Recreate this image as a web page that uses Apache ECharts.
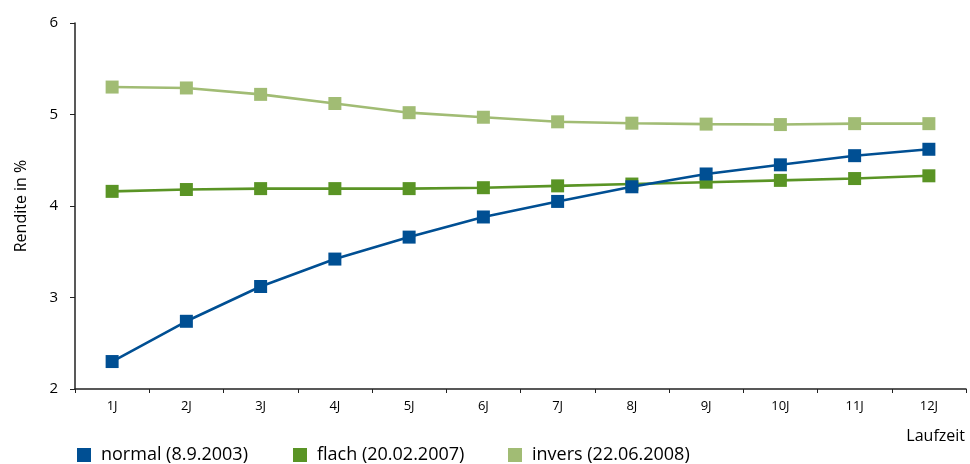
<!DOCTYPE html>
<html>
<head>
<meta charset="utf-8">
<script src="https://cdn.jsdelivr.net/npm/echarts@6/dist/echarts.min.js"></script>
<style>
  html, body { margin: 0; padding: 0; background: #fff; }
  #chart { width: 970px; height: 464px; }
</style>
</head>
<body>
<div id="chart"></div>
<script>
// Zinsstrukturkurven: Rendite nach Laufzeit
const categories = ['1J', '2J', '3J', '4J', '5J', '6J', '7J', '8J', '9J', '10J', '11J', '12J'];
const normal = [2.30, 2.74, 3.12, 3.42, 3.66, 3.88, 4.05, 4.21, 4.35, 4.45, 4.55, 4.62];
const flach  = [4.16, 4.18, 4.19, 4.19, 4.19, 4.20, 4.22, 4.24, 4.26, 4.28, 4.30, 4.33];
const invers = [5.30, 5.29, 5.22, 5.12, 5.02, 4.97, 4.92, 4.905, 4.895, 4.89, 4.90, 4.90];
const seriesNames = ['normal (8.9.2003)', 'flach (20.02.2007)', 'invers (22.06.2008)'];
const yTicks = { min: 2, max: 6, interval: 1 };

const colors = ['#004f93', '#5a9425', '#a1bc74'];
const font = 'Open Sans';
const axisColor = '#222';
const textColor = '#000';

const chart = echarts.init(document.getElementById('chart'), null, { renderer: 'canvas' });

function lineSeries(name, data, color, z) {
  return {
    name: name,
    type: 'line',
    data: data,
    z: z,
    symbol: 'rect',
    symbolSize: 13,
    showSymbol: true,
    lineStyle: { color: color, width: 2.6 },
    itemStyle: { color: color },
    emphasis: { disabled: true },
    animation: false
  };
}

function legendAt(left, name) {
  return {
    data: [name],
    left: left,
    top: 446,
    icon: 'rect',
    itemWidth: 14,
    itemHeight: 14,
    itemGap: 0,
    padding: 0,
    selectedMode: false,
    textStyle: { fontFamily: font, fontSize: 18, color: textColor, padding: [0, 0, 0, 5] }
  };
}

chart.setOption({
  backgroundColor: '#fff',
  animation: false,
  grid: { left: 75, right: 4, top: 23, bottom: 75, containLabel: false },
  legend: [
    legendAt(77, seriesNames[0]),
    legendAt(293, seriesNames[1]),
    legendAt(508, seriesNames[2])
  ],
  xAxis: {
    type: 'category',
    data: categories,
    boundaryGap: true,
    axisLine: { lineStyle: { color: axisColor, width: 1.5 } },
    axisTick: { show: true, alignWithLabel: false, length: 4, lineStyle: { color: axisColor } },
    axisLabel: { fontFamily: font, fontSize: 13, color: textColor, margin: 11 },
    splitLine: { show: false }
  },
  yAxis: {
    type: 'value',
    min: yTicks.min,
    max: yTicks.max,
    interval: yTicks.interval,
    name: 'Rendite in %',
    nameLocation: 'middle',
    nameGap: 46,
    nameRotate: 90,
    nameTextStyle: { fontFamily: font, fontSize: 16, color: textColor },
    axisLine: { show: true, lineStyle: { color: axisColor, width: 1.5 } },
    axisTick: { show: true, length: 5, lineStyle: { color: axisColor } },
    axisLabel: { fontFamily: font, fontSize: 15, color: textColor, margin: 17 },
    splitLine: { show: false }
  },
  graphic: [{
    type: 'text',
    right: 5,
    top: 428,
    style: { text: 'Laufzeit', font: '16px "Open Sans"', fill: textColor }
  }],
  series: [
    lineSeries(seriesNames[2], invers, colors[2], 2),
    lineSeries(seriesNames[1], flach, colors[1], 3),
    lineSeries(seriesNames[0], normal, colors[0], 4)
  ]
});
</script>
</body>
</html>
